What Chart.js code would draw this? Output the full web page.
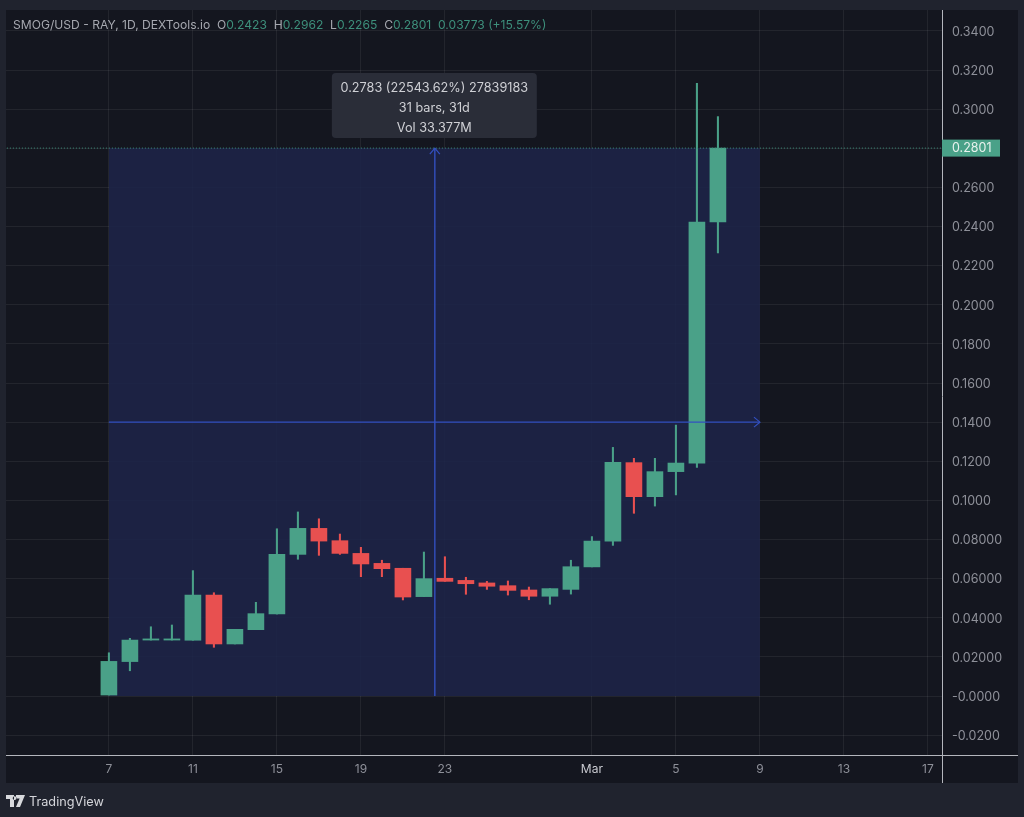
<!DOCTYPE html>
<html>
<head>
<meta charset="utf-8">
<script src="https://cdn.jsdelivr.net/npm/chart.js@4"></script>
<style>
html, body { margin: 0; padding: 0; background: #20232e; width: 1024px; height: 817px; overflow: hidden; }
#panel { position: absolute; left: 6px; top: 10px; width: 1012px; height: 773px; background: #14161f; }
#myChart { position: absolute; left: 0; top: 0; }
#header { position: absolute; left: 13px; top: 17px; font: 12.1px Inter, sans-serif; color: #a6a8b0; white-space: pre; }
#header span { color: #3d8f7b; }
#logoText { position: absolute; left: 29px; top: 794px; font: 12.7px Inter, sans-serif; color: #d4d5da; }
#logo { position: absolute; left: 6px; top: 795px; }
</style>
</head>
<body>
<div id="panel"></div>
<canvas id="myChart" width="1024" height="817"></canvas>
<div id="header">SMOG/USD - RAY, 1D, DEXTools.io  O<span>0.2423</span>  H<span>0.2962</span>  L<span>0.2265</span>  C<span>0.2801</span>  <span>0.03773 (+15.57%)</span></div>
<svg id="logo" width="19" height="12" viewBox="0 0 19 12"><path d="M0 0h8v12H4V4H0z M9 0h1.5a0 0 0 0 1 0 0M10 0h9l-5 12h-4l3.6-8.5H10z M8.6 1.2a1.9 1.9 0 1 0 .01 0z" fill="#d8d9dd"/></svg>
<div id="logoText">TradingView</div>

<script>
// candles, one per day, day 0 = Feb 7
var days   = [0,1,2,3,4,5,6,7,8,9,10,11,12,13,14,15,16,17,18,19,20,21,22,23,24,25,26,27,28,29];
var opens  = [.0005,.0176,.0286,.0286,.0285,.0516,.0266,.0339,.0419,.0724,.0857,.0794,.0729,.0678,.0653,.0508,.0602,.0591,.0578,.0564,.0542,.0510,.0545,.0660,.0792,.1193,.1019,.1147,.1190,.2423];
var highs  = [.0221,.0295,.0354,.0363,.0641,.0528,.0341,.0479,.0855,.0941,.0906,.0828,.0760,.0694,.0653,.0736,.0712,.0607,.0586,.0588,.0557,.0549,.0694,.0815,.1271,.1215,.1215,.1385,.3132,.2962];
var lows   = [.0005,.0129,.0286,.0286,.0285,.0249,.0266,.0339,.0419,.0699,.0719,.0724,.0610,.0610,.0491,.0508,.0586,.0520,.0545,.0516,.0492,.0469,.0521,.0660,.0770,.0934,.0971,.1028,.1169,.2265];
var closes = [.0177,.0286,.0292,.0292,.0516,.0266,.0341,.0421,.0724,.0857,.0792,.0729,.0675,.0651,.0506,.0600,.0586,.0574,.0561,.0540,.0510,.0549,.0661,.0792,.1195,.1019,.1147,.1191,.2423,.2801];

var xTickDays   = [0,4,8,12,16,23,27,31,35,39];
var xTickLabels = ['7','11','15','19','23','Mar','5','9','13','17'];
var yTickValues = [.34,.32,.30,.28,.26,.24,.22,.20,.18,.16,.14,.12,.10,.08,.06,.04,.02,0,-.02];
var yTickLabels = ['0.3400','0.3200','0.3000','','0.2600','0.2400','0.2200','0.2000','0.1800','0.1600','0.1400','0.1200','0.1000','0.08000','0.06000','0.04000','0.02000','-0.0000','-0.0200'];

var lastPrice = 0.2801;
var measureStart = 0, measureEnd = 31, measureMidX = 15.52, measureMidY = 0.14;
var measureLines = ['0.2783 (22543.62%) 27839183', '31 bars, 31d', 'Vol 33.377M'];

var GREEN = '#4aa188', RED = '#e85050', BLUE = '#3350c0';
var candleColor = closes.map(function(c, i) { return c >= opens[i] ? GREEN : RED; });

// arrow heads, price tag, measure box and the axis rules
var overlay = {
    id: 'overlay',
    afterDraw: function(chart) {
        var c = chart.ctx, x = chart.scales.x, y = chart.scales.y;
        var a = chart.chartArea;

        c.save();
        c.strokeStyle = '#b4b6bd';
        c.lineWidth = 1;
        c.beginPath();
        c.moveTo(6, a.bottom + 0.5); c.lineTo(1018, a.bottom + 0.5);
        c.moveTo(a.right + 0.5, 10); c.lineTo(a.right + 0.5, 783);
        c.stroke();

        // arrow heads
        var topX = x.getPixelForValue(measureMidX), topY = y.getPixelForValue(lastPrice);
        var endX = x.getPixelForValue(measureEnd), endY = y.getPixelForValue(measureMidY);
        c.strokeStyle = BLUE;
        c.lineWidth = 1.2;
        c.beginPath();
        c.moveTo(topX - 5, topY + 6); c.lineTo(topX, topY); c.lineTo(topX + 5, topY + 6);
        c.moveTo(endX - 6, endY - 5); c.lineTo(endX, endY); c.lineTo(endX - 6, endY + 5);
        c.stroke();

        // price tag on the axis
        var tagY = y.getPixelForValue(lastPrice);
        c.fillStyle = GREEN;
        c.fillRect(a.right, tagY - 8.5, 58, 17);
        c.fillStyle = '#e8f2ee';
        c.font = '12.5px Inter, sans-serif';
        c.textBaseline = 'middle';
        c.textAlign = 'left';
        c.fillText(lastPrice.toFixed(4), a.right + 10, tagY + 0.5);

        // measure box
        c.fillStyle = '#2a2d38';
        c.beginPath();
        c.roundRect(topX - 103, topY - 75, 205, 65, 4);
        c.fill();
        c.fillStyle = '#cfd0d5';
        c.textAlign = 'center';
        c.font = '12.7px Inter, sans-serif';
        measureLines.forEach(function(t, i) {
            c.fillText(t, topX - 0.5, topY - 60 + i * 20);
        });
        c.restore();
    }
};

var ctx = document.getElementById('myChart').getContext('2d');
var mychart = new Chart(ctx, {
    data: {
        datasets: [
            {
                // shaded measure range
                type: 'line',
                data: [{x: measureStart, y: lastPrice}, {x: measureEnd, y: lastPrice}],
                borderWidth: 0,
                pointRadius: 0,
                fill: 'origin',
                backgroundColor: 'rgba(29, 37, 74, 0.85)',
                order: 5
            },
            {
                type: 'bar',
                data: days.map(function(d, i) { return {x: d, y: [lows[i], highs[i]]}; }),
                backgroundColor: candleColor,
                barThickness: 1.4,
                grouped: false,
                order: 3
            },
            {
                type: 'bar',
                data: days.map(function(d, i) { return {x: d, y: [opens[i], closes[i]]}; }),
                backgroundColor: candleColor,
                barThickness: 16,
                grouped: false,
                order: 2
            },
            {
                type: 'line',
                data: [{x: measureStart, y: measureMidY}, {x: measureEnd, y: measureMidY}],
                borderColor: BLUE,
                borderWidth: 1.4,
                pointRadius: 0,
                order: 1
            },
            {
                type: 'line',
                data: [{x: measureMidX, y: 0}, {x: measureMidX, y: lastPrice}],
                borderColor: BLUE,
                borderWidth: 1.4,
                pointRadius: 0,
                order: 1
            },
            {
                // last price line
                type: 'line',
                data: [{x: -5, y: lastPrice}, {x: 40, y: lastPrice}],
                borderColor: '#3f8f7b',
                borderWidth: 1,
                borderDash: [1, 2],
                pointRadius: 0,
                order: 1
            }
        ]
    },
    options: {
        responsive: false,
        animation: false,
        layout: { padding: { left: 6, top: 10, right: 6, bottom: 34 } },
        plugins: { legend: { display: false }, title: { display: false }, tooltip: { enabled: false } },
        scales: {
            x: {
                type: 'linear',
                offset: false,
                min: -4.9,
                max: 39.67,
                afterBuildTicks: function(s) { s.ticks = xTickDays.map(function(v) { return {value: v}; }); },
                afterFit: function(s) { s.height = 28; s.paddingLeft = 0; s.paddingRight = 0; },
                grid: { offset: false, color: 'rgba(255,255,255,0.065)', drawTicks: false },
                border: { display: false },
                ticks: {
                    padding: 7,
                    maxRotation: 0,
                    autoSkip: false,
                    color: function(c) { return c.tick.value === 23 ? '#c9cad0' : '#8e9099'; },
                    font: { family: 'Inter', size: 12 },
                    callback: function(v) { return xTickLabels[xTickDays.indexOf(v)]; }
                }
            },
            y: {
                position: 'right',
                min: -0.03016,
                max: 0.3507,
                afterBuildTicks: function(s) { s.ticks = yTickValues.map(function(v) { return {value: v}; }); },
                afterFit: function(s) { s.width = 76; s.paddingTop = 0; s.paddingBottom = 0; },
                grid: { color: 'rgba(255,255,255,0.065)', drawTicks: false },
                border: { display: false },
                ticks: {
                    padding: 10,
                    labelOffset: 1,
                    autoSkip: false,
                    color: '#8e9099',
                    font: { family: 'Inter', size: 12.5 },
                    callback: function(v) { return yTickLabels[yTickValues.indexOf(v)]; }
                }
            }
        }
    },
    plugins: [overlay]
});
</script>
</body>
</html>
